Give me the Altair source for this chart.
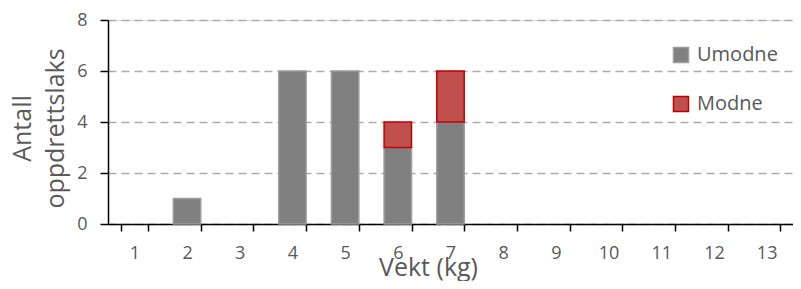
import altair as alt
import pandas as pd

categories = [str(i) for i in range(1, 14)]
umodne = [0, 1, 0, 6, 6, 3, 4, 0, 0, 0, 0, 0, 0]
modne = [0, 0, 0, 0, 0, 1, 2, 0, 0, 0, 0, 0, 0]
series = ["Umodne", "Modne"]
colors = ["#808080", "#c0504d"]
strokes = ["#9c9c9c", "#c00000"]
y_ticks = [0, 2, 4, 6, 8]

rows = []
for c, u, m in zip(categories, umodne, modne):
    if u > 0:
        rows.append({"vekt": c, "antall": u, "status": "Umodne", "ord": 0})
    if m > 0:
        rows.append({"vekt": c, "antall": m, "status": "Modne", "ord": 1})
df = pd.DataFrame(rows)

FONT = "Open Sans"
TXT = "#595959"

chart = alt.Chart(df).mark_bar(strokeWidth=1.5).encode(
    x=alt.X("vekt:N", sort=categories,
            scale=alt.Scale(domain=categories, paddingInner=0.48, paddingOuter=0.24),
            axis=alt.Axis(title="Vekt (kg)", labelAngle=0, tickBand="extent",
                          grid=False, domainColor="black", domainWidth=1.5,
                          tickColor="black", tickWidth=1.5, tickSize=7,
                          labelFontSize=18, labelColor=TXT, labelFont=FONT,
                          labelPadding=13,
                          titleFontSize=25, titleColor=TXT, titleFont=FONT,
                          titleFontWeight="normal", titleX=320, titleY=51,
                          titleBaseline="alphabetic", titleAlign="center")),
    y=alt.Y("antall:Q", stack="zero",
            scale=alt.Scale(domain=[0, 8], nice=False),
            axis=alt.Axis(values=y_ticks, title=["Antall", "oppdrettslaks"],
                          grid=True, gridColor="#aaaaaa", gridDash=[8, 5], gridWidth=1.5,
                          domainColor="black", domainWidth=1.5,
                          tickColor="black", tickWidth=1.5, tickSize=8,
                          labelFontSize=18, labelColor=TXT, labelFont=FONT,
                          labelPadding=13,
                          titleFontSize=25, titleColor=TXT, titleFont=FONT,
                          titleFontWeight="normal", titleLineHeight=33,
                          titleX=-86, titleY=108, titleBaseline="middle",
                          titleAlign="center", titleAngle=270)),
    color=alt.Color("status:N", scale=alt.Scale(domain=series, range=colors),
                    legend=alt.Legend(title=None, orient="none", legendX=563, legendY=25,
                                      symbolType="square", symbolSize=225,
                                      symbolStrokeColor="#9c9c9c", symbolStrokeWidth=1.5,
                                      labelFontSize=20, labelColor=TXT, labelFont=FONT,
                                      labelOffset=6, rowPadding=27)),
    stroke=alt.Stroke("status:N", scale=alt.Scale(domain=series, range=strokes), legend=None),
    order=alt.Order("ord:Q"),
).properties(
    width=685, height=204,
    padding={"left": 100, "top": 12, "right": 0, "bottom": 57},
    autosize=alt.AutoSizeParams(type="none"),
).configure_view(stroke=None).configure(background="white")

chart.save("out.html", embed_options={"renderer": "svg", "actions": False})
